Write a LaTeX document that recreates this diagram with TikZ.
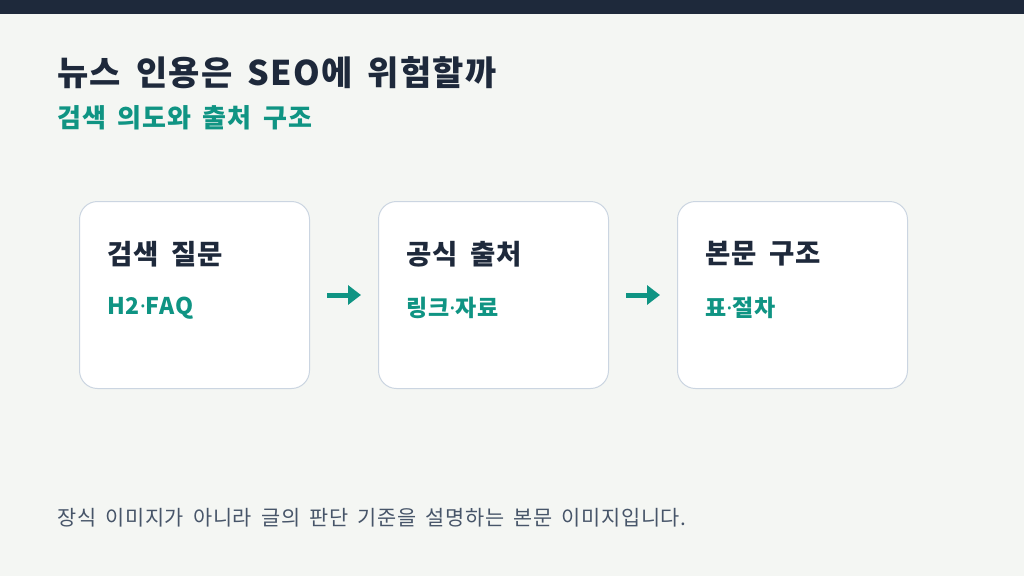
\documentclass[tikz,border=0pt]{standalone}
\usepackage{fontspec}
\setmainfont[LetterSpace=3.5,WordSpace=1.7]{Noto Sans CJK KR}
\newfontfamily\dotfont{Noto Sans}
\newcommand{\mdot}{{\dotfont\bfseries ·}}
\usetikzlibrary{arrows.meta}
\definecolor{bg}{HTML}{F4F6F3}
\definecolor{navy}{HTML}{1E293B}
\definecolor{teal}{HTML}{0F9483}
\definecolor{edge}{HTML}{CBD5E1}
\definecolor{foot}{HTML}{475569}
\begin{document}
\begin{tikzpicture}[x=1pt,y=-1pt,
  txt/.style={anchor=west,inner sep=0pt},
  card/.style={draw=edge,line width=1pt,fill=white,rounded corners=18pt},
  cardtitle/.style={txt,text=navy,font=\fontsize{27.5}{32}\selectfont\bfseries},
  cardsub/.style={txt,text=teal,font=\fontsize{23}{27}\selectfont\bfseries},
  flow/.style={draw=teal,line width=5pt,-{Triangle[length=13pt,width=19pt]}}]
\useasboundingbox (0,0) rectangle (1024,576);
\fill[bg] (0,0) rectangle (1024,576);
\fill[navy] (0,0) rectangle (1024,14);
\node[txt,text=navy,font=\fontsize{34}{40}\selectfont\bfseries] (title) at (57,73) {뉴스 인용은 SEO에 위험할까};
\node[txt,text=teal,font=\fontsize{26}{31}\selectfont\bfseries] (subtitle) at (57,118) {검색 의도와 출처 구조};
\node[card,minimum width=230pt,minimum height=187pt,anchor=north west] (c1) at (79,201) {};
\node[card,minimum width=230pt,minimum height=187pt,anchor=north west] (c2) at (378,201) {};
\node[card,minimum width=230pt,minimum height=187pt,anchor=north west] (c3) at (677,201) {};
\node[cardtitle] (t1) at (107,254) {검색 질문};
\node[cardsub] (s1) at (107,308) {H2\mdot FAQ};
\node[cardtitle] (t2) at (406,254) {공식 출처};
\node[cardsub] (s2) at (406,308) {링크\mdot 자료};
\node[cardtitle] (t3) at (705,254) {본문 구조};
\node[cardsub] (s3) at (705,308) {표\mdot 절차};
\coordinate (a1s) at (327,295); \coordinate (a1e) at (361,295);
\coordinate (a2s) at (626,295); \coordinate (a2e) at (660,295);
\draw[flow] (a1s) -- (a1e);
\draw[flow] (a2s) -- (a2e);
\node[txt,text=foot,font=\fontsize{20.8}{25}\selectfont] (footer) at (57,518) {장식 이미지가 아니라 글의 판단 기준을 설명하는 본문 이미지입니다.};
\end{tikzpicture}
\end{document}
